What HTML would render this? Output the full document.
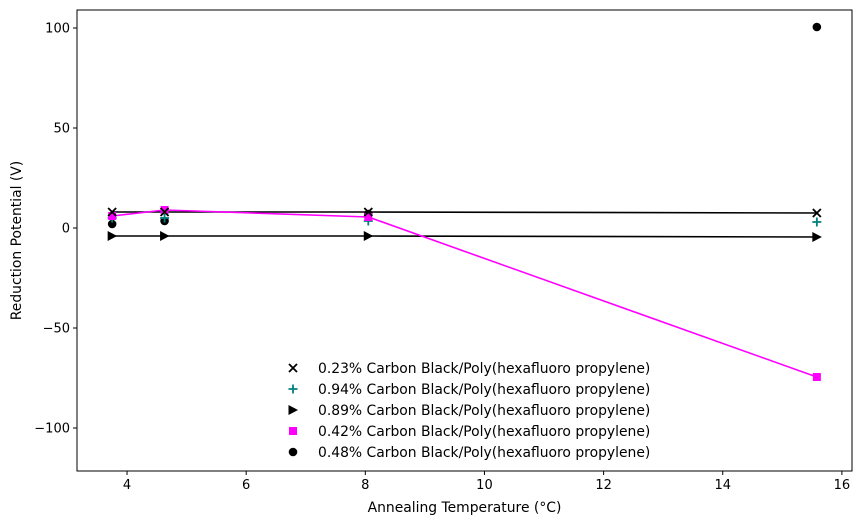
<!DOCTYPE html>
<html><head><meta charset="utf-8"><style>
body{margin:0;background:#fff;}
svg{display:block;font-family:"DejaVu Sans","Liberation Sans",sans-serif;}
</style></head><body>
<svg id="chart" width="862" height="525" viewBox="0 0 862 525"></svg>
<script>
const xs = [3.75, 4.63, 8.05, 15.58];
const s023 = [8, 8, 8, 7.5];
const s094 = [5, 5, 3.5, 3];
const s089 = [-4, -4, -4, -4.5];
const s042 = [6, 9, 5.5, -74.5];
const s048 = [2, 3.5, 7, 100.5];
const xTicks = [4, 6, 8, 10, 12, 14, 16];
const yTicks = [-100, -50, 0, 50, 100];
const labels = ["0.23% Carbon Black/Poly(hexafluoro propylene)","0.94% Carbon Black/Poly(hexafluoro propylene)","0.89% Carbon Black/Poly(hexafluoro propylene)","0.42% Carbon Black/Poly(hexafluoro propylene)","0.48% Carbon Black/Poly(hexafluoro propylene)"];

const L=77,R=852,T=10,B=471;
const xmin=3.16,xmax=16.17,ymin=-121.5,ymax=109;
const X=v=>L+(v-xmin)/(xmax-xmin)*(R-L);
const Y=v=>B-(v-ymin)/(ymax-ymin)*(B-T);
const svg=document.getElementById('chart');
const NS='http://www.w3.org/2000/svg';
function mk(tag,attrs,parent){const e=document.createElementNS(NS,tag);for(const k in attrs)e.setAttribute(k,attrs[k]);(parent||svg).appendChild(e);return e;}

const frame=mk('rect',{x:L,y:T,width:R-L,height:B-T,fill:'none',stroke:'#000','stroke-width':1});



xTicks.forEach(t=>{
  const g=mk('g',{});
  
  
  mk('line',{x1:X(t),x2:X(t),y1:B,y2:B+4,stroke:'#000'},g);
  const tx=mk('text',{x:X(t),y:B+18,'text-anchor':'middle','font-size':13},g);tx.textContent=t;
});
yTicks.forEach(t=>{
  const g=mk('g',{});
  
  
  mk('line',{x1:L-4,x2:L,y1:Y(t),y2:Y(t),stroke:'#000'},g);
  const tx=mk('text',{x:L-7,y:Y(t)+4.5,'text-anchor':'end','font-size':13},g);tx.textContent=t<0?'\u2212'+Math.abs(t):t;
});
const xt=mk('text',{x:(L+R)/2,y:512,'text-anchor':'middle','font-size':13.9});xt.textContent='Annealing Temperature (°C)';


const yt=mk('text',{x:0,y:0,'text-anchor':'middle','font-size':13.9,transform:`translate(21,${(T+B)/2}) rotate(-90)`});yt.textContent='Reduction Potential (V)';



function line(vals,color,name){
  const p=mk('polyline',{points:xs.map((x,i)=>X(x)+','+Y(vals[i])).join(' '),fill:'none',stroke:color,'stroke-width':1.6});
  
  
}
function marker(type,cx,cy,g){
  if(type==='x'){mk('path',{d:`M${cx-4},${cy-4}L${cx+4},${cy+4}M${cx-4},${cy+4}L${cx+4},${cy-4}`,stroke:'#000','stroke-width':1.8},g);}
  else if(type==='+'){mk('path',{d:`M${cx-4.5},${cy}L${cx+4.5},${cy}M${cx},${cy-4.5}L${cx},${cy+4.5}`,stroke:'#008080','stroke-width':1.8},g);}
  else if(type==='>'){mk('path',{d:`M${cx-4.5},${cy-5}L${cx+5},${cy}L${cx-4.5},${cy+5}Z`,fill:'#000'},g);}
  else if(type==='s'){mk('rect',{x:cx-4,y:cy-4,width:8,height:8,fill:'#ff00ff'},g);}
  else if(type==='o'){mk('circle',{cx:cx,cy:cy,r:4.3,fill:'#000'},g);}
}
function scatter(vals,type,name){
  const g=mk('g',{});
  
  
  xs.forEach((x,i)=>marker(type,X(x),Y(vals[i]),g));
}
line(s023,'#000','line-0.23');
line(s089,'#000','line-0.89');
line(s042,'#ff00ff','line-0.42');
scatter(s048,'o','points-0.48');
scatter(s094,'+','points-0.94');
scatter(s089,'>','points-0.89');
scatter(s042,'s','points-0.42');
scatter(s023,'x','points-0.23');

const types=['x','+','>','s','o'];
labels.forEach((lab,i)=>{
  const g=mk('g',{});
  
  
  const y=368+i*21;
  marker(types[i],293,y,g);
  const t=mk('text',{x:318,y:y+5,'font-size':13.9},g);t.textContent=lab;
});
</script>
</body></html>
